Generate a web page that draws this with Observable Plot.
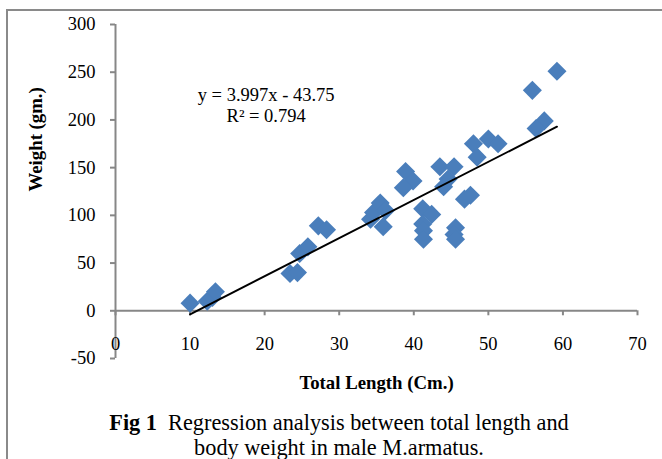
<!DOCTYPE html>
<html>
<head>
<meta charset="utf-8">
<script src="https://cdn.jsdelivr.net/npm/d3@7"></script>
<script src="https://cdn.jsdelivr.net/npm/@observablehq/plot@0.6"></script>
<style>
  html, body { margin: 0; padding: 0; background: #fff; overflow: hidden; }
  #frame { position: absolute; left: 6px; top: 9px; width: 720px; height: 520px;
           border-left: 2px solid #8a8a8a; border-top: 2px solid #8a8a8a; }
  #chart { position: absolute; left: 0; top: 0; }
  #caption { position: absolute; left: 16px; width: 646px; top: 410px; text-align: center;
             font-family: "Liberation Serif", "Times New Roman", serif; font-size: 22.3px;
             line-height: 25px; color: #000; }
</style>
</head>
<body>
<div id="frame"></div>
<div id="chart"></div>
<div id="caption"><b>Fig 1</b>&nbsp; Regression analysis between total length and<br>body weight in male M.armatus.</div>
<script>
// Total length (cm) and weight (g) of male M. armatus
const totalLength = [10.0, 12.3, 13.0, 13.4, 23.4, 24.4, 24.7, 25.8, 27.2, 28.3,
  34.2, 34.6, 35.5, 36.2, 35.9, 38.9, 39.9, 38.6, 41.2, 42.4,
  41.2, 41.3, 41.3, 43.5, 45.4, 44.6, 44.0, 46.8, 47.6, 45.6,
  45.4, 45.6, 48.0, 50.0, 51.3, 48.5, 55.9, 59.2, 57.5, 56.4];
const weight = [8, 10, 14, 20, 39, 40, 60, 67, 89, 85,
  96, 103, 113, 105, 88, 146, 136, 129, 107, 101,
  91, 84, 75, 151, 151, 138, 130, 117, 121, 87,
  80, 75, 175, 180, 175, 161, 231, 251, 199, 191];

const slope = 3.997;
const intercept = -43.75;
const equationText = ["y = 3.997x - 43.75", "R² = 0.794"];
const equationPos = {x: 20.2, y: 216};

const xTicks = [0, 10, 20, 30, 40, 50, 60, 70];
const yTicks = [-50, 0, 50, 100, 150, 200, 250, 300];
const xLabel = "Total Length (Cm.)";
const yLabel = "Weight (gm.)";

const points = totalLength.map((x, i) => ({x, y: weight[i]}));
const [xmin, xmax] = d3.extent(totalLength);
const trend = [xmin, xmax].map(x => ({x, y: slope * x + intercept}));

const axisColor = "#878787";
const font = "Liberation Serif, Times New Roman, serif";

const chart = Plot.plot({
  width: 662,
  height: 400,
  marginLeft: 115,
  marginRight: 25,
  marginTop: 24,
  marginBottom: 42,
  x: {domain: [0, 70], axis: null},
  y: {domain: [-50, 300], axis: null},
  style: {fontFamily: font, fontSize: "18.5px", color: "#000", background: "transparent", overflow: "visible"},
  marks: [
    // axis lines
    Plot.ruleX([0], {y1: -50, y2: 300, stroke: axisColor, strokeWidth: 2}),
    Plot.ruleY([0], {x1: 0, x2: 70, stroke: axisColor, strokeWidth: 2}),
    // y ticks & labels
    Plot.ruleY(yTicks, {y: d => d, x1: 0, x2: 0, insetLeft: -5, stroke: axisColor, strokeWidth: 2}),
    Plot.text(yTicks, {y: d => d, x: 0, text: d => String(d), textAnchor: "end", dx: -20, fill: "#000"}),
    // x ticks & labels (drawn on the zero line)
    Plot.ruleX(xTicks, {x: d => d, y1: 0, y2: 0, insetBottom: -5, stroke: axisColor, strokeWidth: 2}),
    Plot.text(xTicks, {x: d => d, y: 0, text: d => String(d), dy: 33, fill: "#000"}),
    // axis titles
    Plot.text([xLabel], {frameAnchor: "bottom", dy: 30, fontWeight: "bold", fontSize: 18.8, fill: "#000"}),
    Plot.text([yLabel], {frameAnchor: "left", rotate: -90, dx: -80, fontWeight: "bold", fontSize: 18.8, fill: "#000"}),
    // data
    Plot.dot(points, {x: "x", y: "y", symbol: "diamond2", r: 8.6, fill: "#4a7ebb", stroke: "none"}),
    // trendline
    Plot.line(trend, {x: "x", y: "y", stroke: "#000", strokeWidth: 2}),
    // equation
    Plot.text([equationText.join("\n")], {x: () => equationPos.x, y: () => equationPos.y, lineHeight: 1.16, fill: "#000"})
  ]
});
document.getElementById("chart").appendChild(chart);
</script>
</body>
</html>
